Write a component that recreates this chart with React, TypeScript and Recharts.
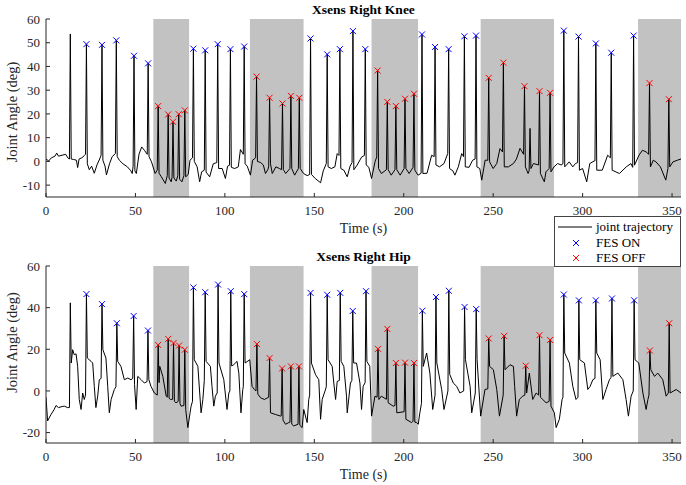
import React from 'react';
import { ComposedChart, Line, Scatter, XAxis, YAxis, ReferenceArea, Label } from 'recharts';

type Pt = [number, number];

const timeTicks = [0, 50, 100, 150, 200, 250, 300, 350];
const kneeTicks = [-10, 0, 10, 20, 30, 40, 50, 60];
const hipTicks = [-20, 0, 20, 40, 60];

// FES OFF periods, seconds
const offPeriods: Pt[] = [[60, 80], [114, 144], [182, 208], [243, 284], [331, 355]];

// knee: peaks [time, angle]
const kneeOn: Pt[] = [
  [22.6, 49.4], [31.3, 49.1], [39.3, 51], [49.2, 44.5], [57.1, 41.3],
  [82.4, 47.5], [89, 46.8], [96, 49.4], [103.1, 47.3], [110.8, 48.4],
  [147.9, 51.8], [157.2, 45.1], [164.3, 47.3], [171.6, 54.9], [178.5, 47.3],
  [210.2, 53.5], [217.5, 48.2], [225.1, 47.3], [233.9, 52.7], [240.4, 53],
  [289.5, 55.1], [297.7, 52.6], [307.4, 49.7], [316, 45.8], [328.5, 53],
];
const kneeOff: Pt[] = [
  [62.7, 23.3], [68.3, 19.8], [71, 16.7], [74.2, 19.9], [77.6, 21.5],
  [117.7, 35.7], [125, 26.8], [132.2, 24.4], [136.9, 27.6], [141.6, 26.8],
  [185.4, 38.3], [190.8, 25.1], [195.6, 23.3], [200.7, 26.4], [205.7, 28.5],
  [247.5, 35.2], [255.7, 41.6], [267.5, 31.7], [275.9, 29.6], [281.8, 28.9],
  [337.4, 33], [348.2, 26.2],
];
const kneeOther: Pt[] = [[13.6, 53.7], [270.6, 13.9]];
const kneeBase: Pt[] = [
  [0, 1], [1.5, 0.2], [3, 1.5], [5, 2.2], [6, 3.5], [7, 2.2], [9, 2.6], [11, 3], [12.2, 1.5], [13.1, 1],
  [14.1, 1], [15.5, 0.8], [17, 0.5], [17.7, -2.6], [18.5, 1], [20, 1.5], [21.5, 2.5], [22.1, 3],
  [23.1, -1], [24.2, -3.5], [25.5, -2], [27, -5], [28.5, -1.5], [30, 1], [30.8, 2.6],
  [31.8, 0.5], [33, -2], [33.8, -5.7], [35.5, -1], [37, 2], [38.8, 3.3],
  [39.8, 2], [41, 0.5], [43, -1], [45.5, -2.3], [47.5, -4], [48.2, -5.1], [48.7, -2],
  [49.7, -4], [50.5, -5.1], [52, 3], [53.5, 6.1], [55, 4.7], [56.6, 3],
  [57.6, 2], [59, -0.2], [61, -5.1], [62.2, -3.7],
  [63.2, -5], [64.5, -6.5], [66.7, -9.3], [67.8, -6],
  [68.8, -7], [70, -8.6], [70.5, -6.5],
  [71.5, -7], [72.8, -8.3], [73.7, -6],
  [74.7, -7.5], [76, -8.6], [77.1, -6],
  [78.1, -6.5], [79.5, -5.5], [80.5, 0.5], [81.9, 1.5],
  [82.9, 0], [84.5, -2.3], [85.9, -8.6], [87, -4.4], [88.5, -3.7],
  [89.5, -4.5], [91.5, -6.5], [93.5, -1], [95.5, -0.5],
  [96.5, -3], [98.5, -3], [100.3, -7.2], [101.5, -2], [102.6, -1.6],
  [103.6, -2.5], [105.5, -3], [107.5, -2.3], [108.7, 5], [110.3, 3],
  [111.3, -1], [112.5, -2], [114.3, -5.8], [115.5, 0.5], [117.2, 1.5],
  [118.2, 0], [120, -0.5], [121.5, -1.5], [122.7, -5.1], [124, -3.5], [124.5, -2.3],
  [125.5, -1], [126.5, -5.1], [128.5, -2.3], [130.5, -3], [131.7, -3.5],
  [132.7, -3.5], [134, -5.1], [136.4, -3],
  [137.4, -3], [139, -5.8], [141.1, -3],
  [142.1, -3], [144, -5.1], [146, -6], [147.4, -5.5],
  [148.4, -5.5], [150.5, -7.2], [153.5, -9], [155, -4], [156.7, -0.9],
  [157.7, -2.3], [159.5, -3], [161.5, -2.3], [162.8, 3.3], [163.8, 2.5],
  [164.8, -3], [166.5, -3.7], [168.4, -6.5], [170, -2], [171.1, -0.5],
  [172.1, -3.5], [174, -1.5], [176.4, 1.8], [178, 2.5],
  [179, -1.5], [180.5, -2.5], [182, -7.2], [184, 0], [184.9, 1.9],
  [185.9, -3], [187.5, -5.1], [190.3, -3.5],
  [191.3, -3.5], [193, -5.8], [195.1, -3.5],
  [196.1, -3.5], [198, -5.8], [200.2, -3],
  [201.2, -3], [203, -5.1], [205.2, -2.5],
  [206.2, -3.7], [208, -5.8], [209.7, -5],
  [210.7, -5.1], [213, -5], [215.6, 2.6], [217, 2],
  [218, -1.5], [220, -2.3], [222.5, -0.9], [224.6, 3.3],
  [225.6, -3], [227.5, -4], [228.6, -5.8], [230.5, -2.3], [232.4, 3.3], [233.4, 2],
  [234.4, -2.3], [236.5, -2.5], [238.5, 0.5], [239.9, 1],
  [240.9, -2.3], [242.5, -3], [243.6, -7.9], [245.5, 0.5], [247, 0.5],
  [248, -0.2], [250, -3], [252, -0.9], [253.8, 5.4], [255.2, 4],
  [256.2, -2.3], [258.5, -2.3], [261.3, -0.9], [263, 1], [265, 5.5], [267, 3],
  [268, -2.3], [269.5, -5.1], [270.1, -4],
  [271.1, -3], [272.5, -0.9], [275.4, -1.5],
  [276.4, -5.1], [278.6, -8.6], [279.5, -4.4], [281.3, -3],
  [282.3, -4.4], [284, -2.3], [286, -0.9], [288, -1.5], [289, -1],
  [290, -2.3], [292.5, -0.2], [294.5, -2.3], [296, -0.9], [297.2, -0.5],
  [298.2, -3.7], [300, -3], [302.3, -8.6], [304, -0.9], [306.5, 0.2], [306.9, 0.2],
  [307.9, -3.7], [311, -3.7], [314, 2.6], [315.5, 1.5],
  [316.5, -3.7], [320.6, -5.1], [324.4, -2.3], [327, -0.9], [328, -2.5],
  [329, -1.6], [331.5, 2.6], [333.5, 4.7], [335.5, 4], [336.9, 3],
  [337.9, -2.3], [339.5, 0.5], [341, -0.2], [343.5, -2.3], [346.5, -7.9], [347.7, -3],
  [348.7, -2.3], [350.5, -0.2], [353, 0.5], [355, 1],
];

// hip
const hipOn: Pt[] = [
  [22.6, 46.5], [31.3, 41.7], [39.6, 32.5], [49, 36], [57, 29],
  [82.4, 49.7], [89, 47.4], [96.2, 51.1], [103.3, 47.9], [110.8, 46.5],
  [147.9, 47.1], [157.2, 46.2], [164.5, 47.1], [171.5, 38.4], [178.9, 47.9],
  [210.4, 38.5], [218, 45.1], [225.2, 48.1], [234, 40.3], [240.5, 39.3],
  [289.5, 46.3], [297.9, 43.5], [307.4, 43.5], [316.4, 44.4], [328.8, 43.5],
];
const hipOff: Pt[] = [
  [62.7, 22.1], [68.3, 25], [71.3, 23], [74.4, 21.8], [77.6, 19.8],
  [117.9, 22.5], [125, 15.8], [132, 10.8], [136.9, 11.8], [141.4, 11.8],
  [185.6, 20.2], [190.8, 29.8], [195.6, 13.4], [200.7, 13.6], [205.7, 13.4],
  [247.5, 25.2], [256.1, 26.4], [268.2, 12.1], [275.9, 26.8], [281.8, 24.5],
  [337.6, 19.4], [348.4, 32.5],
];
const hipOther: Pt[] = [[13.6, 42.3]];
const hipBase: Pt[] = [
  [0, -3], [0.9, -14.4], [2.8, -11.3], [4.5, -9], [5.6, -7], [7, -8], [9, -7.5], [10.2, -7.3], [12.1, -8], [13.1, -8],
  [14.1, 13.4], [14.9, 19.8], [15.8, 17.4], [16.8, 17.8], [17.7, 11.8], [18.6, -4.1], [19.6, -8.9], [20.5, -1], [21.4, -4.1], [22.1, -2],
  [23.1, 15.8], [25.2, 14.2], [26.1, 13.4], [27, 2.2], [27.9, -8], [28.9, -2.5], [29.8, 5.4], [30.8, 6],
  [31.8, 19.8], [33.5, 15.8], [34.5, 2.2], [35.4, -10.5], [36.4, -4.1], [38.2, 0.7], [39.1, 2],
  [40.1, 14.2], [41.9, 11.8], [43.8, 5.4], [45.7, 6.2], [47.5, 5.4], [48.5, 6],
  [49.5, 3], [50.4, -8.9], [51.3, 7], [53.2, 5.4], [55, 3.8], [56.5, 4.5],
  [57.5, 5.4], [58.7, 2.2], [60.6, -1], [62.2, -2],
  [63.2, 4], [63.6, 11.8], [65.3, 7], [67.2, -2.5], [67.8, -3],
  [68.8, -3.5], [69.6, -4.1], [70.8, -4],
  [71.8, -5], [72.7, -5.7], [73.9, -5],
  [74.9, -6], [75.5, -7.3], [77.1, -7],
  [78.1, -8.9], [79.3, -17.6], [81.1, -7.3], [81.9, -5],
  [82.9, 15], [84.9, 11.8], [86.7, -10.5], [87.7, -4.1], [88.5, 5],
  [89.5, 14.2], [91.9, 11.8], [92.8, 2.2], [93.8, -7.3], [94.7, -2.5], [95.7, -1],
  [96.7, 13.4], [99.4, 5.4], [101.2, -8.9], [102.2, -1], [102.8, 0],
  [103.8, 12], [104.9, 12.6], [106.8, 14.2], [107.8, 8.6], [109, -10.5], [110, 0.7], [110.3, 2],
  [111.3, 13.4], [113.9, 15], [115.2, 2.2], [116.5, 0.7], [117.4, 0],
  [118.4, -1.5], [120, -3.3], [122.1, -4.1], [124.5, -3],
  [125.5, -10.5], [128.3, -11.3], [131.2, -12.1], [131.5, -12],
  [132.5, -14], [133.9, -16], [135.7, -15.2], [136.4, -15],
  [137.4, -16], [138.5, -16.8], [140.9, -16],
  [141.9, -16.5], [143.2, -17.6], [144.1, -8.9], [146, -15.2], [146.9, -4.1], [147.4, -2],
  [148.4, 13.4], [150.7, 7.8], [152.5, 5.4], [153.5, -13.6], [154.4, -4.1], [156, 0], [156.7, 2],
  [157.7, 15], [160, 11.8], [160.9, 3.8], [161.9, -4.1], [162.8, 4.6], [164, 5],
  [165, 14.2], [166.5, 11.8], [168, -2.5], [168.4, -10.5], [170.2, 3.8], [171, 5],
  [172, 13.4], [173.6, 13.4], [175.5, 3.8], [176.4, -8.9], [177.3, 2.2], [178.4, 4],
  [179.4, 14.2], [181, 11.8], [182, -12.1], [183.9, -2.5], [185.1, -3],
  [186.1, -4.1], [187.5, -2.5], [190.3, -4],
  [191.3, -5.7], [194.1, -7.3], [195.1, -7],
  [196.1, -10.5], [200.2, -10],
  [201.2, -13.6], [204.4, -15.2], [205.2, -14.5],
  [206.2, -15], [207.2, -15.2], [208.1, -16], [209, -10.5], [209.9, -6],
  [210.9, 11.8], [212.8, 18.2], [214.6, 8.6], [216.2, -8.9], [217.5, -2],
  [218.5, 13.4], [221.2, 0.7], [222.5, -8.9], [224.7, 0],
  [225.7, 8], [227.7, 3.8], [229.6, 2.2], [231.4, -1], [233.5, 0],
  [234.5, 15], [237.1, 2.2], [238, -10.5], [240, -1],
  [241, 15], [243, -12.1], [245.4, 0.7], [247, 1],
  [248, 11.8], [250.1, 10.2], [252, 0.7], [253.5, -12.1], [255.6, -2],
  [256.6, 10.2], [259.4, 12.6], [261.3, 11.8], [262, 2.2], [263.1, -12.1], [264.6, -4.1], [266.5, -2.5], [267.7, -2],
  [268.7, -1], [270.2, 8.6], [272.1, -4.1], [274, -1], [275.4, -2],
  [276.4, -3], [277.7, -4.1], [279.6, -5.7], [281.3, -5],
  [282.3, -7.3], [284.2, -10.5], [285.2, -17.6], [287, -13.6], [288.5, -4.1], [289, -3],
  [290, 18.2], [292.6, 13.4], [294.5, 2.2], [296.3, -4.1], [297.4, -3],
  [298.4, 15], [301, 13.4], [302.9, 0.7], [304.2, 2.2], [305.7, 5.4], [306.9, 6],
  [307.9, 18.2], [309.8, 15], [311.3, -4.1], [313.1, 0.7], [315, 5.4], [315.9, 6.5],
  [316.9, 7], [319.7, 8.6], [322.5, 5.4], [324.3, -4.1], [325.6, -12.1], [327.1, -2.5], [328.3, 0],
  [329.3, 15], [331.4, 13.4], [333.7, -1], [335.5, -8.9], [336.5, -4.1], [337.1, -2],
  [338.1, 10.2], [340.2, 7], [342, 8.6], [344.8, 5.4], [346.7, -2.5], [347.9, -1],
  [348.9, -1], [352.3, 0.7], [355, -1],
];

const FONT = '"Liberation Serif", "Times New Roman", serif';
const INK = '#262626';

const rows = (pts: Pt[]) => pts.map(([t, v]) => ({ t, v }));
const trajectory = (...parts: Pt[][]) =>
  rows(parts.flat().slice().sort((a, b) => a[0] - b[0]));

const XMark = ({ cx, cy, color }: { cx: number; cy: number; color: string }) => (
  <g stroke={color} strokeWidth={1}>
    <line x1={cx - 3} y1={cy - 3} x2={cx + 3} y2={cy + 3} />
    <line x1={cx - 3} y1={cy + 3} x2={cx + 3} y2={cy - 3} />
  </g>
);

interface PanelProps {
  title: string;
  top: number;
  height: number;
  marginTop: number;
  marginBottom: number;
  titleTop: number;
  labelShift: number;
  base: Pt[];
  on: Pt[];
  off: Pt[];
  other: Pt[];
  yDomain: [number, number];
  yTicks: number[];
}

const Panel: React.FC<PanelProps> = (p) => {
  const data = trajectory(p.base, p.on, p.off, p.other);
  return (
    <div style={{ position: 'absolute', left: 0, top: p.top, width: 686, height: p.height }}>
      <div style={{ position: 'absolute', left: 46, width: 635, top: p.titleTop, textAlign: 'center', fontFamily: FONT, fontWeight: 'bold', fontSize: 13.5, lineHeight: '16px', color: '#000' }}>
        {p.title}
      </div>
      <ComposedChart width={686} height={p.height} data={data}
        margin={{ top: p.marginTop, right: 5, bottom: p.marginBottom, left: 0 }}>
        {offPeriods.map(([a, b]) => (
          <ReferenceArea key={a} x1={a} x2={b} fill="#c2c2c2" fillOpacity={1} stroke="none" ifOverflow="hidden" />
        ))}
        <XAxis dataKey="t" type="number" domain={[0, 355]} ticks={timeTicks} allowDataOverflow
          height={31} tickSize={-4} tickMargin={13} stroke={INK}
          tick={{ fill: INK, fontSize: 13, fontFamily: FONT }}>
          <Label content={(lp: any) => {
            const vb = lp.viewBox;
            return (
              <text x={vb.x + vb.width / 2} y={vb.y + 36} textAnchor="middle" fill={INK} fontSize={14} fontFamily={FONT}>
                Time (s)
              </text>
            );
          }} />
        </XAxis>
        <YAxis type="number" domain={p.yDomain} ticks={p.yTicks} allowDataOverflow width={46}
          tickSize={-4} tickMargin={10} stroke={INK}
          tick={{ fill: INK, fontSize: 13, fontFamily: FONT }}>
          <Label content={(lp: any) => {
            const vb = lp.viewBox;
            const cy = vb.y + vb.height / 2 + p.labelShift;
            return (
              <text x={12} y={cy} transform={`rotate(-90, 12, ${cy})`} textAnchor="middle" dominantBaseline="central" fill={INK} fontSize={14.5} fontFamily={FONT}>
                Joint Angle (deg)
              </text>
            );
          }} />
        </YAxis>
        <Line dataKey="v" type="linear" stroke="#000" strokeWidth={1} dot={false} activeDot={false} isAnimationActive={false} />
        <Scatter data={rows(p.on)} dataKey="v" isAnimationActive={false}
          shape={(s: any) => <XMark cx={s.cx} cy={s.cy} color="#0000ff" />} />
        <Scatter data={rows(p.off)} dataKey="v" isAnimationActive={false}
          shape={(s: any) => <XMark cx={s.cx} cy={s.cy} color="#ff0000" />} />
      </ComposedChart>
    </div>
  );
};

const LegendBox = () => (
  <div style={{ position: 'absolute', left: 554, top: 216, width: 125, height: 49, border: '1px solid #444', background: '#fff' }}>
    <svg width={125} height={49} style={{ display: 'block' }}>
      <line x1={3} y1={10} x2={37} y2={10} stroke="#000" strokeWidth={1} />
      <text x={41} y={14} fontSize={13} fontFamily={FONT} fill="#000">joint trajectory</text>
      <XMark cx={21} cy={26} color="#0000ff" />
      <text x={41} y={30} fontSize={13} fontFamily={FONT} fill="#000">FES ON</text>
      <XMark cx={21} cy={41} color="#ff0000" />
      <text x={41} y={45} fontSize={13} fontFamily={FONT} fill="#000">FES OFF</text>
    </svg>
  </div>
);

export default function App() {
  return (
    <div style={{ position: 'absolute', left: 0, top: 0, width: 686, height: 485, background: '#fff', overflow: 'hidden' }}>
      <Panel title="Xsens Right Knee" top={0} height={240} marginTop={19} marginBottom={12} titleTop={2} labelShift={4}
        base={kneeBase} on={kneeOn} off={kneeOff} other={kneeOther} yDomain={[-15, 60]} yTicks={kneeTicks} />
      <Panel title="Xsens Right Hip" top={240} height={245} marginTop={26} marginBottom={11} titleTop={9} labelShift={-12}
        base={hipBase} on={hipOn} off={hipOff} other={hipOther} yDomain={[-25, 60]} yTicks={hipTicks} />
      <LegendBox />
    </div>
  );
}
